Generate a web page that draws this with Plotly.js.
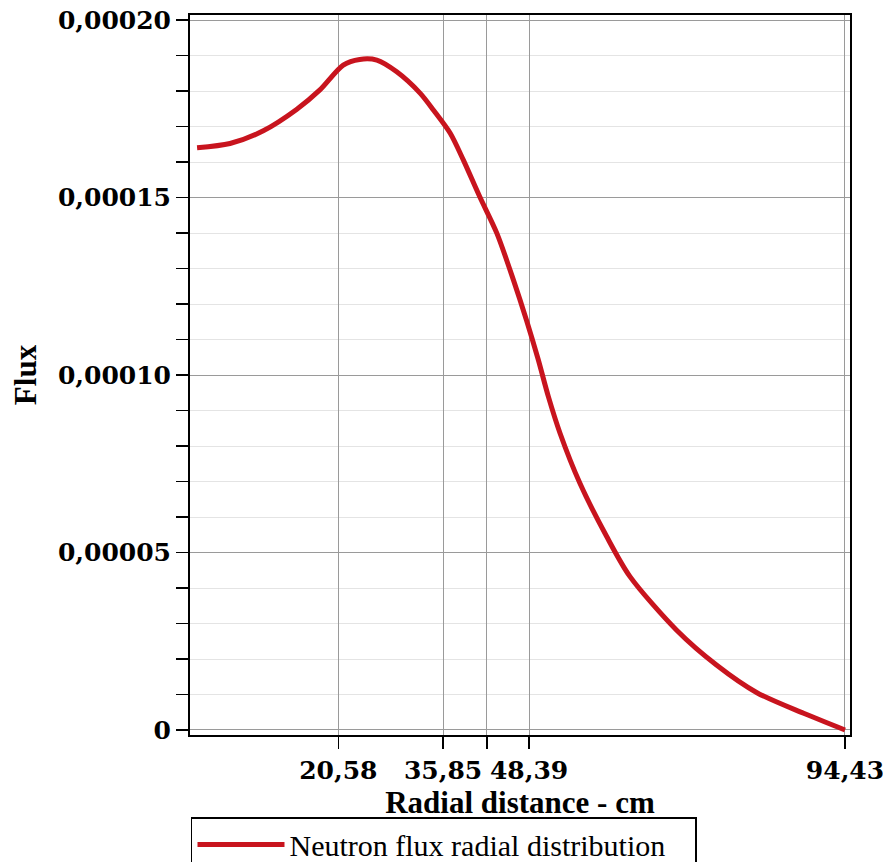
<!DOCTYPE html>
<html>
<head>
<meta charset="utf-8">
<script src="https://cdn.plot.ly/plotly-3.0.1.min.js"></script>
<style>html,body{margin:0;padding:0;background:#fff;}</style>
</head>
<body>
<div id="chart" style="width:883px;height:862px;"></div>
<script>
// Radial distance (cm)
const radius = [0, 4.8, 9.65, 14.5, 17.9, 21.3, 23.7, 26.2, 29.1, 32.5, 34.5, 36.9, 38.8, 41.2, 43.7, 46.1, 48.0, 49.7, 51.2, 52.9, 55.8, 59.7, 63.1, 69.9, 75.7, 81.6, 88.4, 94.43];
// Neutron flux
const flux = [1.640e-4, 1.652e-4, 1.688e-4, 1.748e-4, 1.803e-4, 1.873e-4, 1.889e-4, 1.887e-4, 1.854e-4, 1.794e-4, 1.745e-4, 1.681e-4, 1.606e-4, 1.502e-4, 1.399e-4, 1.268e-4, 1.155e-4, 1.045e-4, 9.39e-5, 8.36e-5, 6.95e-5, 5.45e-5, 4.32e-5, 2.81e-5, 1.83e-5, 1.05e-5, 4.7e-6, 0];
// Tick values / labels
const xTickVals = [20.58, 35.85, 42.25, 48.39, 94.43];
const xTickText = ['20,58', '35,85', '', '48,39', '94,43'];
const yTickVals = [0, 0.00005, 0.00010, 0.00015, 0.00020];
const yTickText = ['0', '0,00005', '0,00010', '0,00015', '0,00020'];
const seriesName = 'Neutron flux radial distribution';

const tickFont = {family: 'DejaVu Serif', size: 25, color: '#000', weight: 'bold'};
const titleFont = {family: 'Liberation Serif', size: 31, color: '#000', weight: 'bold'};

const trace = {
  x: radius, y: flux, type: 'scatter', mode: 'lines', name: seriesName,
  line: {color: '#c8141e', width: 5, shape: 'spline', smoothing: 0.8},
  showlegend: true
};

const layout = {
  width: 883, height: 862,
  margin: {l: 190, r: 33, t: 15, b: 127, autoexpand: false},
  paper_bgcolor: '#fff', plot_bgcolor: '#fff',
  separators: ', ',
  showlegend: true,
  xaxis: {
    range: [-1.03, 95.16],
    tickmode: 'array', tickvals: xTickVals, ticktext: xTickText, tickangle: 0,
    ticklabeloverflow: 'allow',
    ticks: 'outside', ticklen: 12, tickwidth: 1.5, tickcolor: '#000',
    tickfont: tickFont,
    showgrid: true, gridcolor: '#9a9a9a', gridwidth: 1,
    zeroline: false,
    showline: true, mirror: true, linecolor: '#000', linewidth: 2,
    title: {text: 'Radial distance - cm', font: titleFont, standoff: 1}
  },
  yaxis: {
    range: [-1.41e-6, 2.0141e-4],
    tickmode: 'array', tickvals: yTickVals, ticktext: yTickText,
    ticks: 'outside', ticklen: 12, tickwidth: 1.5, tickcolor: '#000',
    tickfont: tickFont,
    showgrid: true, gridcolor: '#9a9a9a', gridwidth: 1,
    minor: {tickmode: 'linear', tick0: 0, dtick: 0.00001, ticks: 'outside', ticklen: 12,
            tickwidth: 1.5, tickcolor: '#000', showgrid: true, gridcolor: '#e4e4e4', gridwidth: 1},
    zeroline: false,
    showline: true, mirror: true, linecolor: '#000', linewidth: 2,
    title: {text: 'Flux', font: titleFont, standoff: 12}
  },
  legend: {
    orientation: 'h', x: 0.0015, xanchor: 'left', y: -0.114, yanchor: 'top',
    bordercolor: '#000', borderwidth: 1.5, bgcolor: '#fff',
    font: {family: 'Liberation Serif', size: 30, color: '#000'},
    itemwidth: 87, entrywidth: 401
  }
};

Plotly.newPlot('chart', [trace], layout, {displayModeBar: false, staticPlot: true});
</script>
</body>
</html>
